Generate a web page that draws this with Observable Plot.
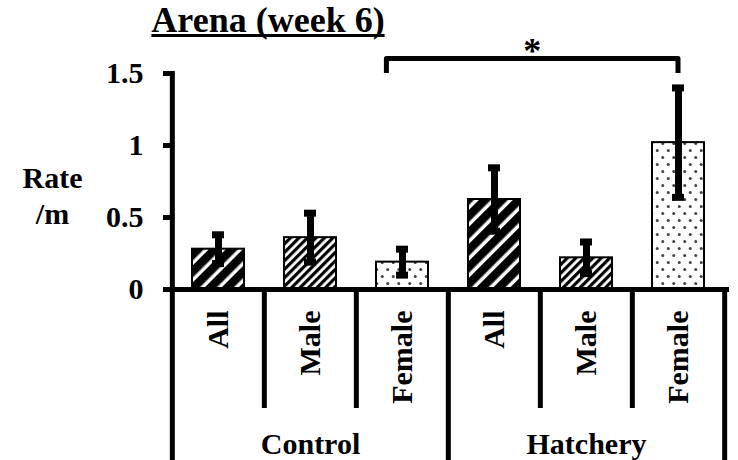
<!DOCTYPE html>
<html><head><meta charset="utf-8">
<script src="https://cdn.jsdelivr.net/npm/d3@7"></script>
<script src="https://cdn.jsdelivr.net/npm/@observablehq/plot@0.6"></script>
<style>
body{margin:0;background:#fff;}
#wrap{position:relative;width:738px;height:460px;overflow:hidden;background:#fff;}
#title{position:absolute;left:0;top:2px;width:536px;text-align:center;font:bold 36px/36px "Liberation Serif","Times New Roman",serif;color:#000;text-decoration:underline;text-decoration-thickness:3px;text-underline-offset:2px;text-decoration-skip-ink:none;}
</style></head><body>
<div id="wrap"><div id="chart"></div><div id="title">Arena (week 6)</div></div>
<script>
// ---- data ----
const groups = ["Control", "Control", "Control", "Hatchery", "Hatchery", "Hatchery"];
const subgroups = ["All", "Male", "Female", "All", "Male", "Female"];
const means = [0.28, 0.36, 0.19, 0.625, 0.22, 1.02];
const errors = [0.10, 0.17, 0.09, 0.22, 0.11, 0.38];
const patterns = ["wide", "thin", "dots", "wide", "thin", "dots"];
const yTicks = [0, 0.5, 1, 1.5];
const groupNames = ["Control", "Hatchery"];
const yLabel = "Rate\n/m";
const sig = {from: "Control|Female", to: "Hatchery|Female", label: "*", yTop: 1.6, yLeg: 1.5};

const data = groups.map((g, i) => ({key: `${g}|${subgroups[i]}`, group: g, sub: subgroups[i],
  mean: means[i], err: errors[i], pattern: patterns[i]}));
const keys = data.map(d => d.key);
const groupLabels = groupNames.map(g => ({name: g, key: `${g}|Male`}));

// ---- layout ----
const W = 738, H = 460, ML = 171, MR = 13, MT = 73, MB = 171;
const frameH = H - MT - MB;
const step = (W - ML - MR) / keys.length;
const FONT = "'Liberation Serif','Times New Roman',serif";

const defs = () => {
  const d = d3.create("svg:defs");
  const wide = d.append("pattern").attr("id", "pat-wide").attr("patternUnits", "userSpaceOnUse")
    .attr("width", 12).attr("height", 12).attr("patternTransform", "rotate(45)");
  wide.append("rect").attr("width", 12).attr("height", 12).attr("fill", "white");
  wide.append("rect").attr("width", 8.5).attr("height", 12).attr("fill", "black");
  const thin = d.append("pattern").attr("id", "pat-thin").attr("patternUnits", "userSpaceOnUse")
    .attr("width", 6).attr("height", 6).attr("patternTransform", "rotate(45)");
  thin.append("rect").attr("width", 6).attr("height", 6).attr("fill", "white");
  thin.append("rect").attr("width", 3.2).attr("height", 6).attr("fill", "black");
  const dots = d.append("pattern").attr("id", "pat-dots").attr("patternUnits", "userSpaceOnUse")
    .attr("width", 11).attr("height", 14);
  dots.append("rect").attr("width", 11).attr("height", 14).attr("fill", "white");
  dots.append("circle").attr("cx", 2.75).attr("cy", 3.5).attr("r", 1.5).attr("fill", "#444");
  dots.append("circle").attr("cx", 8.25).attr("cy", 10.5).attr("r", 1.5).attr("fill", "#444");
  return d.node();
};

const bracket = (index, {x, y}) => {
  const g = d3.create("svg:g");
  const bw = x.bandwidth();
  const xl = x(sig.from) + bw * 0.2, xr = x(sig.to) + bw * 0.5;
  g.append("path")
    .attr("d", `M${xl},${y(sig.yLeg)}V${y(sig.yTop)}H${xr}V${y(sig.yLeg)}`)
    .attr("fill", "none").attr("stroke", "black").attr("stroke-width", 5)
    .attr("stroke-linejoin", "round");
  g.append("text").attr("x", (xl + xr) / 2).attr("y", y(sig.yTop) + 4.5)
    .attr("text-anchor", "middle").attr("font-size", 36).attr("font-weight", "bold")
    .attr("font-family", FONT).attr("fill", "black").text(sig.label);
  return g.node();
};

const chart = Plot.plot({
  width: W, height: H,
  marginLeft: ML, marginRight: MR, marginTop: MT, marginBottom: MB,
  style: {fontFamily: FONT, fontWeight: "bold", color: "black", background: "white", overflow: "visible"},
  x: {domain: keys, paddingInner: 0.44, paddingOuter: 0.22, label: null},
  y: {domain: [0, 1.5], label: null},
  color: {type: "identity"},
  marks: [
    defs,
    Plot.barY(data, {x: "key", y: "mean", fill: d => `url(#pat-${d.pattern})`, stroke: "black", strokeWidth: 2}),
    Plot.ruleX(data, {x: "key", y1: d => d.mean - d.err, y2: d => d.mean + d.err, stroke: "black", strokeWidth: 7}),
    Plot.tickY(data, {x: "key", y: d => d.mean + d.err, stroke: "black", strokeWidth: 7, insetLeft: 20, insetRight: 20}),
    Plot.tickY(data, {x: "key", y: d => d.mean - d.err, stroke: "black", strokeWidth: 7, insetLeft: 20, insetRight: 20}),
    Plot.ruleY([0], {stroke: "black", strokeWidth: 5, insetRight: -4}),
    // y axis line
    Plot.ruleX([keys[0]], {x: d => d, dx: -step / 2, stroke: "black", strokeWidth: 5, insetTop: -2, insetBottom: -MB}),
    // short separators between subgroups
    Plot.ruleX(data.filter(d => d.sub !== "All"), {x: "key", dx: -step / 2, stroke: "black", strokeWidth: 5, insetTop: frameH, insetBottom: -119}),
    // long separators between groups
    Plot.ruleX(data.filter(d => d.sub === "All" && d.group !== groupNames[0]), {x: "key", dx: -step / 2, stroke: "black", strokeWidth: 5, insetTop: frameH, insetBottom: -MB}),
    Plot.ruleX([keys[keys.length - 1]], {x: d => d, dx: step / 2, stroke: "black", strokeWidth: 5, insetTop: frameH, insetBottom: -MB}),
    Plot.axisY({ticks: yTicks, tickFormat: d => String(d), tickSize: 8, tickPadding: 20, stroke: "black", strokeWidth: 5,
      fontSize: 30, fontWeight: "bold", label: null}),
    Plot.axisX({tickSize: 0, tickPadding: 21, tickRotate: -90, fontSize: 30, fontWeight: "bold",
      tickFormat: k => k.split("|")[1], label: null}),
    Plot.text(groupLabels, {x: "key", text: "name", frameAnchor: "bottom", lineAnchor: "top", dy: 143,
      fontSize: 30, fontWeight: "bold"}),
    Plot.text([yLabel], {text: d => d, frameAnchor: "left", dx: -119, dy: 13, textAnchor: "middle",
      fontSize: 30, fontWeight: "bold", lineHeight: 1.2}),
    bracket
  ]
});
document.getElementById("chart").appendChild(chart);
</script>
</body></html>
